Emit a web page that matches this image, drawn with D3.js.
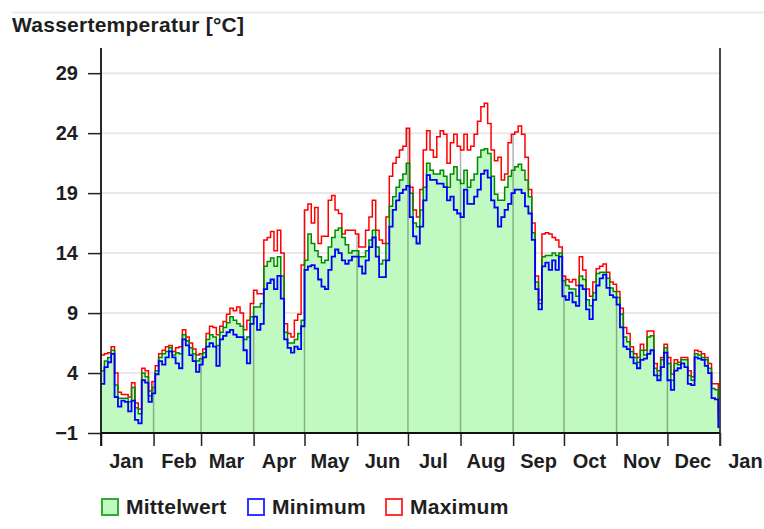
<!DOCTYPE html>
<html>
<head>
<meta charset="utf-8">
<script src="https://cdn.jsdelivr.net/npm/d3@7"></script>
<style>
  body { margin: 0; background: #fff; }
  svg { display: block; }
  text { font-family: "Liberation Sans", Arial, sans-serif; font-weight: bold; fill: #1e1e1e; }
</style>
</head>
<body>
<div id="chart"></div>
<script>
// one step every 2 days through the year (day of year where each step starts)
var stepDays = d3.range(0, 365, 2);

var maxVals = [
  5.5, 5.6, 5.7, 6.2, 4.0, 2.4, 2.2, 2.2, 2.0, 3.2,
  1.5, 1.0, 4.4, 4.2, 2.5, 3.3, 4.6, 5.6, 5.9, 6.2,
  6.3, 5.8, 6.1, 6.2, 7.6, 7.0, 6.5, 6.0, 5.5, 5.6,
  6.0, 7.3, 7.9, 7.8, 7.2, 7.9, 8.3, 8.9, 9.4, 9.2,
  9.5, 9.0, 7.6, 8.4, 9.8, 10.9, 10.6, 10.6, 15.1, 15.3,
  15.8, 14.2, 15.9, 14.0, 8.1, 7.3, 7.0, 8.4, 8.9, 13.0,
  17.6, 18.1, 16.5, 17.8, 14.8, 15.4, 15.4, 18.4, 18.8, 17.6,
  17.3, 15.6, 15.9, 15.9, 15.9, 15.6, 14.5, 14.5, 15.9, 17.0,
  18.4, 15.9, 15.1, 14.8, 17.0, 20.4, 21.5, 22.0, 22.6, 22.9,
  24.4, 19.5, 17.6, 17.0, 19.3, 22.6, 24.2, 22.6, 22.0, 23.7,
  24.2, 23.9, 21.5, 23.2, 23.9, 22.9, 22.6, 23.9, 22.6, 22.9,
  23.9, 25.0, 26.2, 26.5, 24.8, 22.6, 21.7, 22.0, 20.1, 20.6,
  23.2, 23.9, 24.1, 24.6, 23.9, 22.0, 19.3, 16.5, 12.1, 10.1,
  15.6, 15.7, 15.6, 15.3, 15.1, 14.5, 12.1, 11.8, 11.6, 11.8,
  11.3, 13.7, 12.6, 11.0, 10.4, 11.6, 12.7, 12.9, 13.1, 12.4,
  11.6, 11.4, 10.8, 9.4, 7.8, 7.3, 6.2, 5.6, 5.3, 6.4,
  5.9, 7.5, 7.5, 4.8, 4.2, 5.3, 6.4, 5.3, 3.9, 5.1,
  4.9, 5.3, 5.3, 4.2, 3.7, 5.9, 5.8, 5.6, 5.3, 4.8,
  3.1, 3.1, 0.8];

var meanVals = [
  4.2, 5.0, 5.3, 5.9, 3.0, 1.9, 1.9, 1.9, 1.6, 2.8,
  1.1, 0.6, 4.0, 3.7, 2.1, 2.8, 4.2, 5.3, 5.6, 5.8,
  6.1, 5.5, 5.7, 5.6, 7.2, 6.7, 6.1, 5.6, 5.0, 5.2,
  5.7, 6.8, 7.2, 7.0, 6.3, 7.4, 7.8, 8.2, 8.7, 8.4,
  8.1, 7.9, 6.8, 7.0, 8.7, 9.5, 9.5, 9.8, 12.9, 13.3,
  13.6, 12.9, 13.7, 12.1, 7.4, 6.5, 6.5, 6.8, 7.3, 8.4,
  13.4, 15.6, 14.8, 14.2, 13.7, 13.2, 13.4, 14.5, 15.3, 15.9,
  16.1, 15.3, 14.7, 14.0, 14.2, 14.2, 13.7, 13.7, 14.2, 15.1,
  15.9, 14.5, 13.1, 13.4, 14.8, 17.9, 18.7, 19.5, 20.1, 20.6,
  21.5, 19.0, 16.5, 16.2, 17.6, 19.5, 21.5, 20.9, 20.6, 20.6,
  20.9, 20.4, 19.5, 20.6, 21.2, 20.1, 19.8, 20.9, 19.5, 20.1,
  20.6, 22.0, 22.6, 22.7, 22.3, 20.4, 18.9, 18.4, 18.4, 19.5,
  20.4, 20.9, 21.2, 21.4, 20.9, 20.1, 18.7, 15.7, 11.6, 9.8,
  13.7, 13.8, 13.8, 14.0, 13.8, 14.0, 11.7, 11.3, 11.0, 11.0,
  10.4, 12.1, 11.8, 10.1, 9.6, 10.7, 12.3, 12.4, 12.4, 11.9,
  11.1, 10.8, 10.3, 8.9, 7.0, 6.6, 5.8, 5.3, 4.9, 5.9,
  5.5, 7.0, 7.1, 4.4, 3.8, 5.1, 6.1, 4.8, 3.4, 4.8,
  4.7, 5.1, 5.1, 3.8, 3.4, 5.6, 5.5, 5.3, 5.1, 4.4,
  2.7, 2.6, 0.2];

var minVals = [
  3.1, 4.5, 4.9, 5.6, 2.0, 1.2, 1.7, 1.6, 0.8, 1.7,
  0.1, -0.2, 3.4, 3.2, 1.6, 2.3, 3.9, 5.0, 4.7, 5.3,
  5.8, 5.3, 4.8, 4.4, 6.8, 6.3, 5.5, 5.0, 4.1, 4.7,
  5.3, 6.2, 6.5, 6.2, 4.6, 6.8, 7.1, 7.4, 7.6, 7.2,
  7.0, 7.0, 5.9, 4.8, 8.1, 8.7, 7.6, 8.1, 11.0, 11.5,
  11.8, 11.0, 12.1, 10.2, 6.8, 6.1, 5.7, 6.2, 6.0, 7.9,
  12.6, 12.9, 13.0, 12.7, 11.8, 11.2, 11.0, 12.6, 13.7, 14.3,
  14.0, 13.4, 13.1, 13.4, 13.7, 13.7, 12.9, 12.3, 13.4, 14.5,
  15.3, 13.7, 12.0, 12.0, 13.4, 16.2, 17.6, 18.4, 19.0, 19.3,
  19.6, 17.0, 15.4, 14.8, 16.2, 18.4, 20.5, 20.1, 20.1, 19.8,
  19.8, 19.5, 18.4, 18.7, 17.6, 17.3, 17.0, 19.3, 18.1, 18.1,
  18.7, 19.3, 20.6, 20.9, 20.3, 18.4, 17.8, 16.2, 17.0, 17.6,
  18.1, 19.0, 19.3, 19.3, 19.0, 17.9, 17.3, 15.1, 11.0, 9.3,
  12.9, 13.2, 12.6, 13.4, 12.6, 13.7, 10.4, 10.1, 10.7, 9.9,
  9.6, 11.3, 11.0, 9.3, 8.5, 10.1, 11.3, 11.9, 12.2, 11.1,
  10.5, 10.3, 9.7, 7.8, 6.2, 6.0, 5.3, 4.8, 4.4, 5.1,
  5.2, 5.6, 5.9, 3.8, 3.4, 4.5, 5.7, 3.4, 2.6, 4.2,
  4.4, 4.8, 4.5, 3.1, 3.0, 5.3, 5.2, 5.1, 4.6, 4.0,
  1.9, 1.8, -0.5];

var monthLabels = ["Jan", "Feb", "Mar", "Apr", "May", "Jun", "Jul", "Aug", "Sep", "Oct", "Nov", "Dec", "Jan"];
var yTicks = [-1, 4, 9, 14, 19, 24, 29];

var seriesNames = ["Mittelwert", "Minimum", "Maximum"];

var width = 764, height = 529;
var yearStart = new Date(2023, 0, 1), yearEnd = new Date(2024, 0, 1);

var svg = d3.select("#chart").append("svg")
  .attr("width", width)
  .attr("height", height);

var x = d3.scaleTime().domain([yearStart, yearEnd]).range([101, 720]);
var y = d3.scaleLinear().domain([-1, 31.1]).range([433, 48]);

var data = stepDays.map(function(d, i) {
  return { date: d3.timeDay.offset(yearStart, d), max: maxVals[i], mean: meanVals[i], min: minVals[i] };
});
// close the last step at the end of the year
var last = data[data.length - 1];
data.push({ date: yearEnd, max: last.max, mean: last.mean, min: last.min });

// faint frame line at the top
svg.append("line")
  .attr("x1", 12).attr("x2", width).attr("y1", 12.5).attr("y2", 12.5)
  .style("stroke", "#ececec").style("stroke-width", 2);

// title
svg.append("text")
  .attr("x", 12).attr("y", 32)
  .style("font-size", "21px")
  .style("letter-spacing", "0.25px")
  .text("Wassertemperatur [°C]");

// horizontal grid
svg.append("g").selectAll("line")
  .data(yTicks.slice(1))
  .enter().append("line")
  .attr("x1", 101).attr("x2", 720)
  .attr("y1", function(d) { return y(d); })
  .attr("y2", function(d) { return y(d); })
  .style("stroke", "#e8e8e8").style("stroke-width", 2);

// mean area
var area = d3.area()
  .curve(d3.curveStepAfter)
  .x(function(d) { return x(d.date); })
  .y0(y(-1))
  .y1(function(d) { return y(d.mean); });

svg.append("path")
  .datum(data)
  .attr("d", area)
  .style("fill", "#c0fac0");

// month grid, from the baseline up to the maximum on that day
var months = d3.timeMonth.range(yearStart, yearEnd).slice(1);
var bisect = d3.bisector(function(d) { return d.date; }).right;
svg.append("g").selectAll("line")
  .data(months)
  .enter().append("line")
  .attr("x1", function(d) { return x(d); })
  .attr("x2", function(d) { return x(d); })
  .attr("y1", y(-1))
  .attr("y2", function(d) { return y(data[bisect(data, d) - 1].max); })
  .style("stroke", "#000").style("stroke-opacity", 0.3).style("stroke-width", 1.5);

function stepLine(key) {
  return d3.line()
    .curve(d3.curveStepAfter)
    .x(function(d) { return x(d.date); })
    .y(function(d) { return y(d[key]); });
}

svg.append("path").datum(data).attr("d", stepLine("max"))
  .style("fill", "none").style("stroke", "#ff0000").style("stroke-width", 1.5);
svg.append("path").datum(data).attr("d", stepLine("mean"))
  .style("fill", "none").style("stroke", "#008a00").style("stroke-width", 1.5);
svg.append("path").datum(data).attr("d", stepLine("min"))
  .style("fill", "none").style("stroke", "#0000ff").style("stroke-width", 1.8);

// y axis
var yAxis = d3.axisLeft(y).tickValues(yTicks).tickSize(13).tickPadding(10);
var gy = svg.append("g")
  .attr("transform", "translate(101,0)")
  .call(yAxis);
gy.select(".domain").remove();
gy.selectAll(".tick line").style("stroke", "#222").style("stroke-width", 1.5);
gy.selectAll("text").style("font-size", "20px").style("font-family", "Liberation Sans, Arial, sans-serif").style("font-weight", "bold").attr("fill", "#1e1e1e");

// x axis: month ticks, labels in the middle of the month
var xAxis = d3.axisBottom(x).ticks(d3.timeMonth.every(1)).tickSize(13).tickFormat("");
var gx = svg.append("g")
  .attr("transform", "translate(0,433)")
  .call(xAxis);
gx.select(".domain").remove();
gx.selectAll(".tick line").style("stroke", "#222").style("stroke-width", 1.5);

svg.append("g").selectAll("text")
  .data(monthLabels)
  .enter().append("text")
  .attr("x", function(d, i) { return x(d3.timeDay.offset(d3.timeMonth.offset(yearStart, i), 15)); })
  .attr("y", 468)
  .attr("text-anchor", "middle")
  .style("font-size", "20px")
  .text(function(d) { return d; });

// frame: left, right and bottom lines
svg.append("line").attr("x1", 101).attr("x2", 101).attr("y1", 48).attr("y2", 446)
  .style("stroke", "#111").style("stroke-width", 1.8);
svg.append("line").attr("x1", 720).attr("x2", 720).attr("y1", 48).attr("y2", 446)
  .style("stroke", "#333").style("stroke-width", 1.8);
svg.append("line").attr("x1", 101).attr("x2", 720).attr("y1", 433).attr("y2", 433)
  .style("stroke", "#111").style("stroke-width", 1.8);

// legend
var legendX = [101, 247, 385];
var legendStroke = ["#33aa33", "#3333ff", "#ff3333"];
var legendFill = ["#c0fac0", "#ffffff", "#ffffff"];
var legend = svg.append("g").selectAll("g")
  .data(seriesNames)
  .enter().append("g")
  .attr("transform", function(d, i) { return "translate(" + legendX[i] + ",498)"; });
legend.append("rect")
  .attr("x", 1).attr("y", 1).attr("width", 16).attr("height", 16)
  .style("fill", function(d, i) { return legendFill[i]; })
  .style("stroke", function(d, i) { return legendStroke[i]; })
  .style("stroke-width", 2);
legend.append("text")
  .attr("x", 25).attr("y", 16)
  .style("font-size", "21px")
  .style("letter-spacing", "0.25px")
  .text(function(d) { return d; });
</script>
</body>
</html>
